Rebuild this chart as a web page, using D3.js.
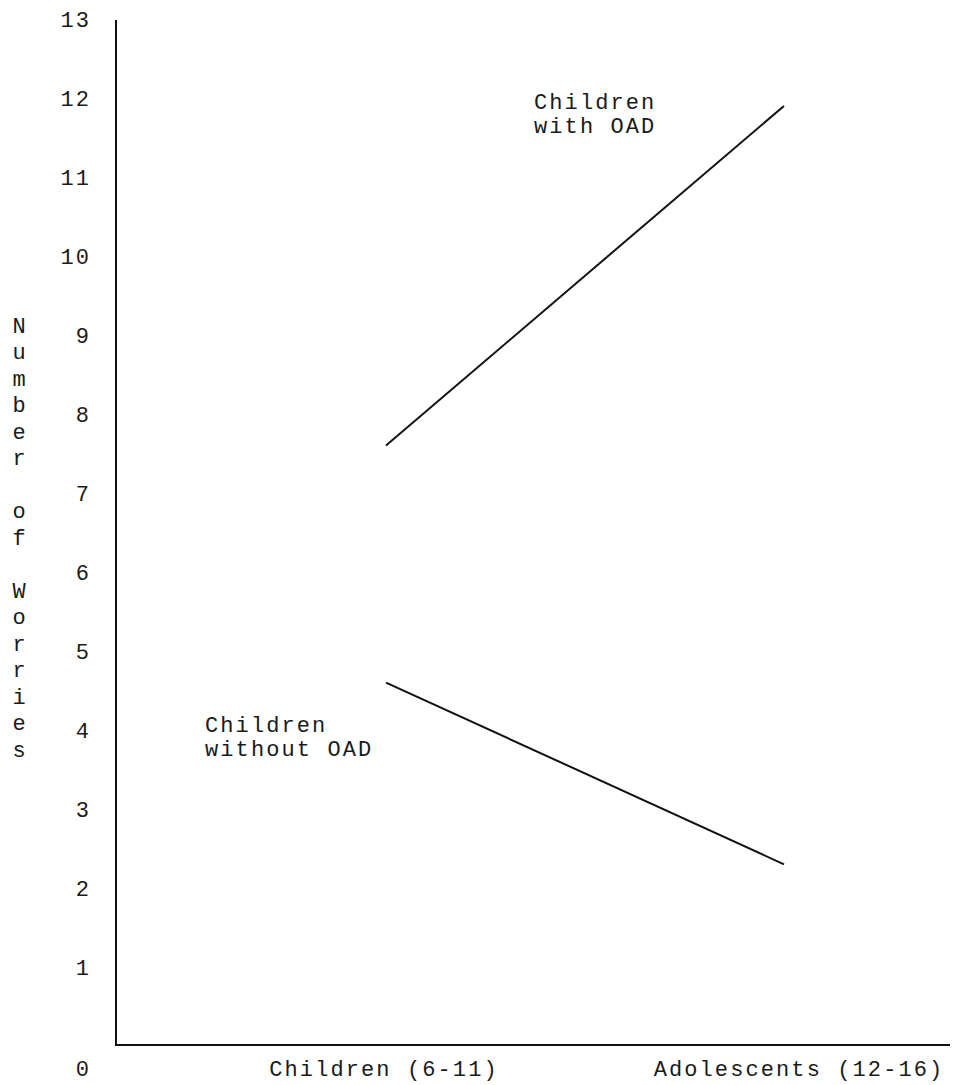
<!DOCTYPE html>
<html><head><meta charset="utf-8">
<script src="https://cdn.jsdelivr.net/npm/d3@7"></script>
<style>
body{margin:0;background:#fff;}
text{font-family:"Liberation Mono","DejaVu Sans Mono",monospace;fill:#1a1a1a;}
</style></head>
<body>
<script>
const categories = ["Children (6-11)", "Adolescents (12-16)"];
const seriesNames = ["Children with OAD", "Children without OAD"];
const withOAD = [7.6, 11.9];
const withoutOAD = [4.6, 2.3];
const yTicks = [0,1,2,3,4,5,6,7,8,9,10,11,12,13];
const yTitle = "Number of Worries";

const W = 954, H = 1085;
const svg = d3.select("body").append("svg").attr("width", W).attr("height", H);

const axisX = 116, axisBottom = 1045, axisTop = 20, axisRight = 950;
const y = d3.scaleLinear().domain([0, 13]).range([1046, 19]);
const x = d3.scalePoint().domain(categories).range([386, 784]);

const fs = 22, ls = 2.1;
const bottomLabelY = 1068;

// axes
svg.append("line").attr("x1", axisX).attr("x2", axisX).attr("y1", axisTop).attr("y2", axisBottom)
  .attr("stroke", "#111").attr("stroke-width", 2);
svg.append("line").attr("x1", axisX - 1).attr("x2", axisRight).attr("y1", axisBottom).attr("y2", axisBottom)
  .attr("stroke", "#111").attr("stroke-width", 2);

// y tick labels
svg.selectAll(".yt").data(yTicks).enter().append("text")
  .attr("class", "yt")
  .attr("x", 91)
  .attr("y", d => d === 0 ? bottomLabelY : y(d))
  .attr("dy", "0.35em")
  .attr("text-anchor", "end")
  .attr("font-size", fs)
  .attr("letter-spacing", ls)
  .text(d => d);

// x labels
const xLabelShift = [-2, 15];
svg.selectAll(".xt").data(categories).enter().append("text")
  .attr("class", "xt")
  .attr("x", (d, i) => x(d) + xLabelShift[i])
  .attr("y", bottomLabelY)
  .attr("dy", "0.35em")
  .attr("text-anchor", "middle")
  .attr("font-size", fs)
  .attr("letter-spacing", ls)
  .text(d => d);

// y title vertical stacked letters
const letters = yTitle.split("");
svg.selectAll(".yl").data(letters).enter().append("text")
  .attr("x", 19)
  .attr("y", (d, i) => 325 + i * 26.5)
  .attr("dy", "0.35em")
  .attr("text-anchor", "middle")
  .attr("font-size", fs)
  .text(d => d === " " ? "" : d);

// lines
const line = d3.line().x((d, i) => x(categories[i])).y(d => y(d));
[withOAD, withoutOAD].forEach(s => {
  svg.append("path").attr("d", line(s)).attr("fill", "none")
    .attr("stroke", "#111").attr("stroke-width", 2);
});

// annotations
function label(lines, lx, ly) {
  const t = svg.append("text").attr("font-size", fs).attr("letter-spacing", ls);
  lines.forEach((l, i) => t.append("tspan").attr("x", lx).attr("y", ly + i * 24).attr("dy", "0.35em").text(l));
}
label(["Children", "with OAD"], 534, 101);
label(["Children", "without OAD"], 205, 724);
</script>
</body></html>
